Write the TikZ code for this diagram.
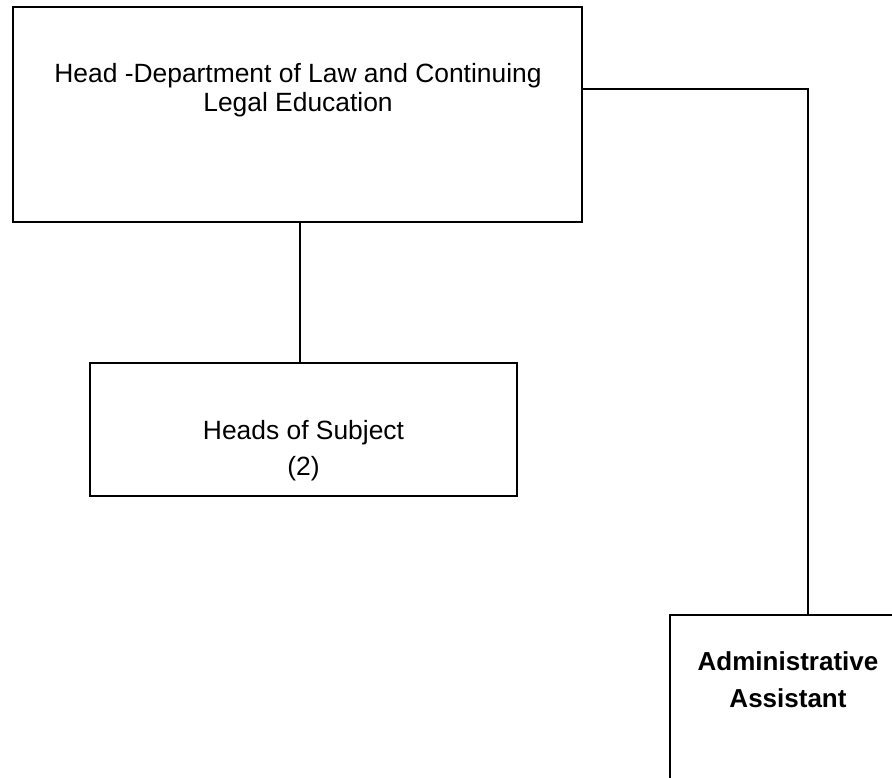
\documentclass[tikz,border=0pt]{standalone}
\usepackage{fontspec}
\setmainfont{Liberation Sans}
\begin{document}
\begin{tikzpicture}[x=1pt,y=-1pt,
  box/.style={draw=black, line width=1.8pt, rectangle, inner sep=0pt},
  conn/.style={draw=black, line width=1.8pt},
  txt/.style={anchor=base, inner sep=0pt, font=\fontsize{26.4}{30}\selectfont},
  btxt/.style={anchor=base, inner sep=0pt, font=\fontsize{26}{30}\selectfont\bfseries}]
\clip (0,0) rectangle (892,778);
\fill[white] (0,0) rectangle (892,778);
% boxes
\node[box, minimum width=569pt, minimum height=215pt] (head) at (297.5,114.5) {};
\node[box, minimum width=427pt, minimum height=133pt] (hos) at (303.5,429.5) {};
\node[box, minimum width=236pt, minimum height=200pt] (admin) at (788,715) {};
% texts
\node[txt] (head1) at (298,83) {Head -Department of Law and Continuing};
\node[txt] (head2) at (298,112) {Legal Education};
\node[txt] (hos1) at (303.5,439) {Heads of Subject};
\node[txt] (hos2) at (303.5,475) {(2)};
\node[btxt] (adm1) at (788,670) {Administrative};
\node[btxt] (adm2) at (788,707) {Assistant};
% connectors
\coordinate (vx) at (300,0);
\coordinate (bend) at (808,89);
\draw[conn] (head.south -| vx) -- (hos.north -| vx);
\draw[conn] (head.east |- bend) -- (bend) -- (bend |- admin.north);
\end{tikzpicture}
\end{document}
